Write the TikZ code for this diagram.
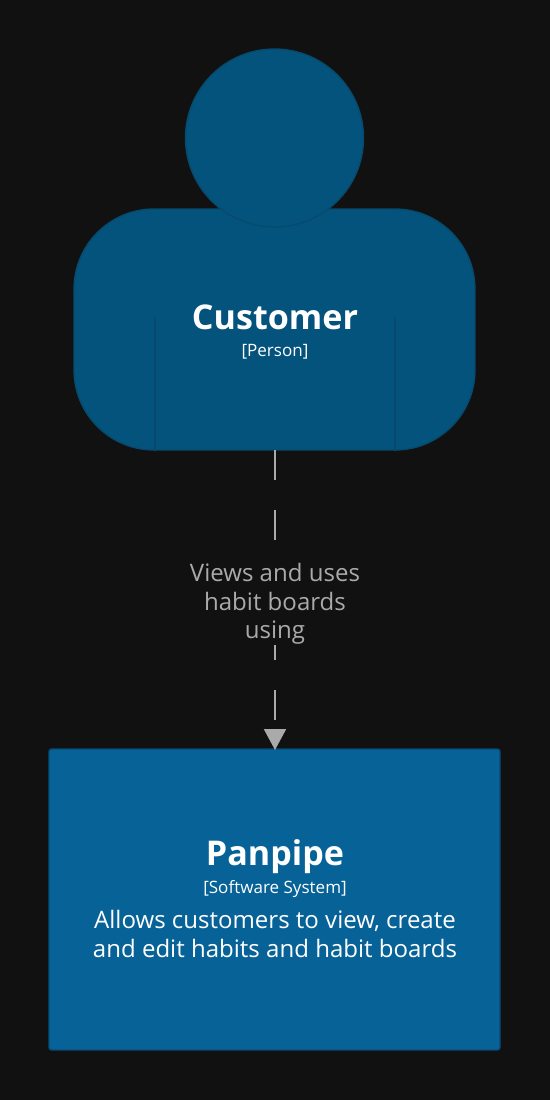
\documentclass[tikz,border=0pt]{standalone}
\usepackage{fontspec}
\setmainfont{Open Sans}
\usetikzlibrary{arrows.meta, positioning}
\definecolor{pagebg}{RGB}{17, 17, 17}
\definecolor{personfill}{RGB}{4, 83, 125}
\definecolor{persondraw}{RGB}{6, 74, 110}
\definecolor{systemfill}{RGB}{7, 98, 152}
\definecolor{systemdraw}{RGB}{6, 78, 120}
\definecolor{linkgray}{RGB}{170, 170, 170}

\begin{document}
\begin{tikzpicture}[
  x=0.02cm, y=-0.02cm,
  txt/.style={inner sep=0pt, anchor=base, text=white},
  title/.style={txt, font=\fontsize{19.4}{24}\selectfont\bfseries},
  kind/.style={txt, font=\fontsize{9.7}{12}\selectfont},
  descr/.style={txt, font=\fontsize{13.68}{16.3}\selectfont},
]
\fill[pagebg] (0,0) rectangle (550,1100);
\useasboundingbox (0,0) rectangle (550,1100);

% Person
\node[draw=persondraw, fill=personfill, line width=0.8pt, rounded corners=1.6cm, inner sep=0pt,
      minimum width=8.02cm, minimum height=4.82cm] (body) at (274.5,329.5) {};
\node[draw=persondraw, fill=personfill, line width=0.8pt, circle, inner sep=0pt,
      minimum size=3.56cm] (head) at (274.5,138) {};
\coordinate (armL) at (155,317);
\coordinate (armR) at (395,317);
\draw[persondraw, line width=0.8pt] (armL) -- (armL |- body.south);
\draw[persondraw, line width=0.8pt] (armR) -- (armR |- body.south);
\node[title] (cname) at (275,329) {Customer};
\node[kind] (ckind) at (275,356) {[Person]};

% Software system
\node[draw=systemdraw, fill=systemfill, line width=0.8pt, rounded corners=1.5pt, inner sep=0pt,
      minimum width=9.02cm, minimum height=6.02cm] (panpipe) at (274.5,899.5) {};
\node[title] (pname) at (275,865) {Panpipe};
\node[kind] (pkind) at (275,893) {[Software System]};
\node[descr] (pdesc1) at (275,928) {Allows customers to view, create};
\node[descr] (pdesc2) at (275,957) {and edit habits and habit boards};

% Relationship
\draw[linkgray, line width=1.13pt, dash pattern=on 0.6cm off 0.6cm,
      -{Triangle[length=0.42cm, width=0.44cm, sep=0pt]}]
     (275,450) -- (275,750);
\node[fill=pagebg, inner sep=0pt, minimum width=3.4cm, minimum height=1.76cm] (lblbg) at (275,601) {};
\node[txt, text=linkgray, font=\fontsize{13.68}{16.3}\selectfont] (lbl1) at (275,581) {Views and uses};
\node[txt, text=linkgray, font=\fontsize{13.68}{16.3}\selectfont] (lbl2) at (275,610) {habit boards};
\node[txt, text=linkgray, font=\fontsize{13.68}{16.3}\selectfont] (lbl3) at (275,638) {using};
\end{tikzpicture}
\end{document}
